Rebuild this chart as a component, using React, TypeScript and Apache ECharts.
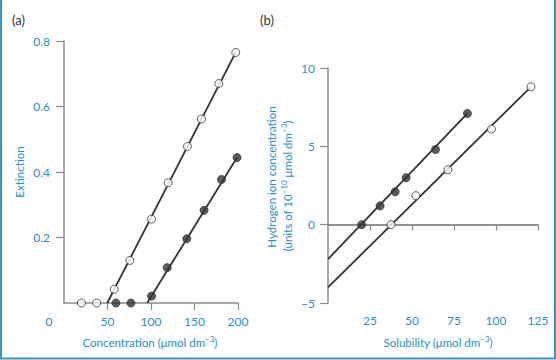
import React, { useEffect, useRef } from "react";
import * as echarts from "echarts";

// Panel (a): extinction vs concentration
const aOpenPoints: [number, number][] = [
  [20, 0], [37.5, 0], [57.7, 0.042], [75.7, 0.13], [100.6, 0.256],
  [119.7, 0.367], [141.9, 0.478], [158, 0.562], [177.9, 0.67], [197.4, 0.765],
];
const aFilledPoints: [number, number][] = [
  [59.7, 0], [76.9, 0], [100.6, 0.021], [118.6, 0.108], [141.1, 0.196],
  [161, 0.283], [181, 0.377], [198.9, 0.444],
];
const aOpenFit: [number, number][] = [[49.7, 0], [197.4, 0.765]];
const aFilledFit: [number, number][] = [[95.6, 0], [198.9, 0.444]];
const aXTicks = [50, 100, 150, 200];
const aXLabels = [0, 50, 100, 150, 200];
const aYTicks = [0.2, 0.4, 0.6, 0.8];

// Panel (b): hydrogen ion concentration vs solubility
const bFilledPoints: [number, number][] = [
  [20, 0], [31, 1.2], [40, 2.1], [46.5, 3.0], [64, 4.8], [83, 7.1],
];
const bOpenPoints: [number, number][] = [
  [37.5, 0], [52.3, 1.85], [71.4, 3.5], [97.3, 6.1], [120.8, 8.8],
];
const bFilledFit: [number, number][] = [[0, -2.2], [83, 7.1]];
const bOpenFit: [number, number][] = [[0, -4.0], [120.8, 8.8]];
const bXTicks = [25, 50, 75, 100, 125];

const BLUE = "#2590d4";
const AXIS = "#8c8c8c";
const INK = "#333333";
const FONT = "Lato, 'Noto Sans', sans-serif";
const TITLE_SIZE = 11.5;

export default function App() {
  const ref = useRef<HTMLDivElement>(null);
  useEffect(() => {
    if (!ref.current) return;
    const chart = echarts.init(ref.current, null, { renderer: "svg" });
    const supRich = {
      sup: { fontSize: 8, fill: BLUE, fontFamily: FONT, verticalAlign: "top", lineHeight: 14 },
    };
    const lineSeries = (data: [number, number][], idx: number) => ({
      type: "line",
      xAxisIndex: idx,
      yAxisIndex: idx,
      data,
      showSymbol: false,
      symbol: "none",
      lineStyle: { color: INK, width: 1.8 },
      z: 2,
      silent: true,
    });
    const scatterSeries = (data: [number, number][], idx: number, filled: boolean) => ({
      type: "scatter",
      xAxisIndex: idx,
      yAxisIndex: idx,
      data,
      symbol: "circle",
      symbolSize: 8,
      itemStyle: filled
        ? { color: INK, borderColor: INK, borderWidth: 1 }
        : { color: "#ffffff", borderColor: INK, borderWidth: 1 },
      z: 3,
      silent: true,
    });
    const labelStyle = { color: BLUE, fontSize: 12, fontFamily: FONT };
    const titleStyle = {
      fill: BLUE,
      fontSize: TITLE_SIZE,
      lineHeight: 14,
      fontFamily: FONT,
      textAlign: "center",
      textVerticalAlign: "middle",
    };
    chart.setOption({
      animation: false,
      backgroundColor: "#ffffff",
      grid: [
        { left: 64, top: 41, width: 174, height: 262 },
        { left: 328, top: 68, width: 210, height: 235 },
      ],
      xAxis: [
        {
          gridIndex: 0,
          type: "value",
          min: 0,
          max: 200,
          interval: 50,
          splitLine: { show: false },
          axisLine: { show: true, onZero: false, lineStyle: { color: AXIS, width: 1.5 } },
          axisTick: { show: true, length: 7, customValues: aXTicks, lineStyle: { color: AXIS, width: 1.2 } },
          axisLabel: {
            ...labelStyle,
            margin: 12,
            customValues: aXLabels,
            formatter: (v: number) => (v === 0 ? "{z|0}" : String(v)),
            rich: { z: { ...labelStyle, padding: [0, 30, 0, 0] } },
          },
        },
        {
          gridIndex: 1,
          type: "value",
          min: 0,
          max: 125,
          interval: 25,
          splitLine: { show: false },
          axisLine: { show: true, onZero: true, lineStyle: { color: "#6e6e6e", width: 1.5 } },
          axisTick: { show: true, length: 6, customValues: bXTicks, lineStyle: { color: AXIS, width: 1.2 } },
          axisLabel: { ...labelStyle, margin: 11, customValues: bXTicks },
        },
      ],
      yAxis: [
        {
          gridIndex: 0,
          type: "value",
          min: 0,
          max: 0.8,
          interval: 0.2,
          splitLine: { show: false },
          axisLine: { show: true, lineStyle: { color: AXIS, width: 1.5 } },
          axisTick: { show: true, length: 8, customValues: aYTicks, lineStyle: { color: AXIS, width: 1.2 } },
          axisLabel: { ...labelStyle, margin: 14, customValues: aYTicks, formatter: (v: number) => v.toFixed(1) },
        },
        {
          gridIndex: 1,
          type: "value",
          min: -5,
          max: 10,
          interval: 5,
          splitLine: { show: false },
          axisLine: { show: true, onZero: false, lineStyle: { color: AXIS, width: 1.5 } },
          axisTick: { show: true, length: 8, lineStyle: { color: AXIS, width: 1.2 } },
          axisLabel: { ...labelStyle, margin: 13, formatter: (v: number) => (v < 0 ? "\u2212" + Math.abs(v) : String(v)) },
        },
      ],
      series: [
        lineSeries(aOpenFit, 0),
        lineSeries(aFilledFit, 0),
        scatterSeries(aOpenPoints, 0, false),
        scatterSeries(aFilledPoints, 0, true),
        lineSeries(bFilledFit, 1),
        lineSeries(bOpenFit, 1),
        scatterSeries(bFilledPoints, 1, true),
        scatterSeries(bOpenPoints, 1, false),
      ],
      graphic: [
        {
          type: "polyline",
          shape: { points: [[1, 0], [1, 358.5], [555, 358.5], [555, 0]] },
          style: { stroke: "#3f92c8", lineWidth: 2, fill: null },
          silent: true,
        },
        {
          type: "text",
          x: 18.5,
          y: 20,
          style: { text: "(a)", fill: INK, fontSize: 13, fontFamily: FONT, textAlign: "center", textVerticalAlign: "middle" },
        },
        {
          type: "text",
          x: 267,
          y: 20,
          style: { text: "(b)", fill: INK, fontSize: 13, fontFamily: FONT, textAlign: "center", textVerticalAlign: "middle" },
        },
        {
          type: "text",
          x: 19,
          y: 172,
          rotation: Math.PI / 2,
          style: { ...titleStyle, text: "Extinction" },
        },
        {
          type: "text",
          x: 150,
          y: 342,
          style: { ...titleStyle, text: "Concentration (\u03bcmol dm{sup|\u22123})", rich: supRich },
        },
        {
          type: "text",
          x: 438,
          y: 342,
          style: { ...titleStyle, text: "Solubility (\u03bcmol dm{sup|\u22123})", rich: supRich },
        },
        {
          type: "text",
          x: 271,
          y: 177,
          rotation: Math.PI / 2,
          style: { ...titleStyle, text: "Hydrogen ion concentration" },
        },
        {
          type: "text",
          x: 287,
          y: 186,
          rotation: Math.PI / 2,
          style: { ...titleStyle, text: "(units of 10{sup|\u221210} \u03bcmol dm{sup|\u22123})", rich: supRich },
        },
      ],
    });
    return () => chart.dispose();
  }, []);
  return (
    <div
      ref={ref}
      style={{ position: "fixed", left: 0, top: 0, width: 556, height: 360, background: "#fff" }}
    />
  );
}
